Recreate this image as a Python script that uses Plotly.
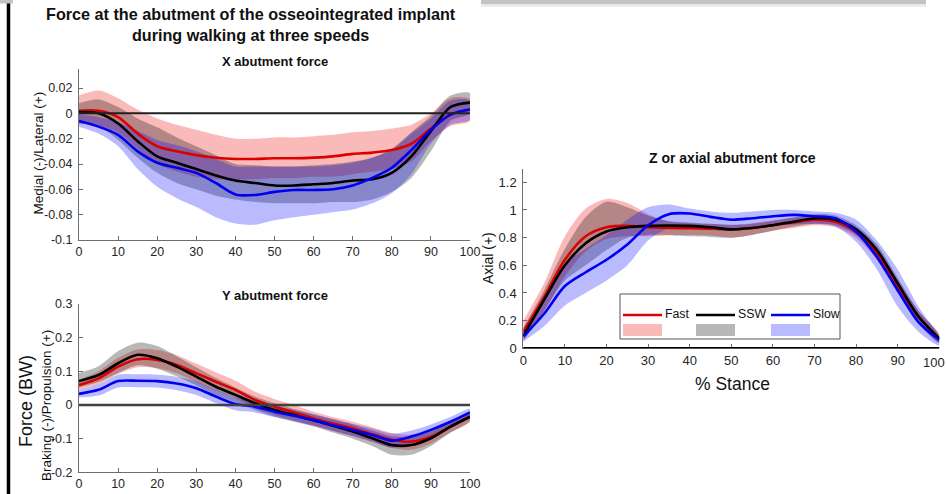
import plotly.graph_objects as go

W, H = 947, 494

# ---------------- data ----------------
STANCE = [0, 5, 10, 15, 20, 25, 30, 35, 40, 45, 50, 55, 60, 65, 70, 75, 80, 85, 90, 95, 100]
X_TICKS = [0, 10, 20, 30, 40, 50, 60, 70, 80, 90, 100]

# X (medial/lateral) abutment force
ml_fast = [0.002, 0.002, -0.003, -0.016, -0.026, -0.030, -0.033, -0.035, -0.036, -0.036, -0.0355,
           -0.0355, -0.035, -0.034, -0.032, -0.031, -0.029, -0.024, -0.012, -0.001, 0.003]
ml_fast_hi = [0.014, 0.018, 0.012, 0.003, -0.004, -0.009, -0.013, -0.017, -0.020, -0.020, -0.019,
              -0.019, -0.018, -0.017, -0.015, -0.014, -0.012, -0.009, 0.000, 0.012, 0.011]
ml_fast_lo = [-0.008, -0.010, -0.015, -0.028, -0.040, -0.046, -0.050, -0.052, -0.052, -0.052, -0.051,
              -0.051, -0.050, -0.050, -0.048, -0.046, -0.044, -0.038, -0.022, -0.010, -0.006]

ml_ssw = [0.001, 0.0, -0.008, -0.022, -0.034, -0.039, -0.044, -0.049, -0.053, -0.055, -0.057,
          -0.057, -0.056, -0.055, -0.053, -0.052, -0.047, -0.034, -0.014, 0.005, 0.0085]
ml_ssw_hi = [0.008, 0.011, 0.005, -0.004, -0.011, -0.019, -0.026, -0.033, -0.040, -0.041, -0.042,
             -0.042, -0.041, -0.040, -0.038, -0.035, -0.028, -0.015, -0.002, 0.014, 0.016]
ml_ssw_lo = [-0.008, -0.010, -0.021, -0.035, -0.047, -0.055, -0.060, -0.065, -0.068, -0.070, -0.071,
             -0.071, -0.071, -0.070, -0.070, -0.068, -0.062, -0.051, -0.030, -0.006, 0.0]

ml_slow = [-0.006, -0.0105, -0.017, -0.030, -0.039, -0.043, -0.047, -0.055, -0.064, -0.0645, -0.062,
           -0.0605, -0.0605, -0.060, -0.057, -0.051, -0.043, -0.029, -0.013, -0.001, 0.003]
ml_slow_hi = [-0.001, -0.003, -0.007, -0.014, -0.021, -0.025, -0.030, -0.036, -0.042, -0.042, -0.042,
              -0.042, -0.042, -0.041, -0.039, -0.035, -0.029, -0.016, -0.004, 0.010, 0.010]
ml_slow_lo = [-0.0105, -0.016, -0.026, -0.044, -0.058, -0.067, -0.074, -0.082, -0.087, -0.088, -0.0845,
              -0.082, -0.080, -0.078, -0.076, -0.071, -0.063, -0.048, -0.024, -0.009, -0.005]

# Y (braking/propulsion) abutment force
ap_fast = [0.059, 0.079, 0.114, 0.136, 0.134, 0.119, 0.094, 0.069, 0.045, 0.015, -0.005,
           -0.022, -0.040, -0.055, -0.069, -0.087, -0.104, -0.109, -0.094, -0.065, -0.035]
ap_fast_hi = [0.075, 0.100, 0.140, 0.165, 0.163, 0.148, 0.123, 0.097, 0.072, 0.040, 0.018,
              0.0, -0.020, -0.036, -0.050, -0.066, -0.083, -0.088, -0.076, -0.050, -0.025]
ap_fast_lo = [0.045, 0.062, 0.092, 0.112, 0.110, 0.094, 0.068, 0.043, 0.020, -0.010, -0.030,
              -0.046, -0.062, -0.077, -0.092, -0.110, -0.128, -0.133, -0.115, -0.082, -0.048]

ap_ssw = [0.071, 0.089, 0.124, 0.149, 0.139, 0.114, 0.084, 0.054, 0.030, 0.005, -0.015,
          -0.030, -0.045, -0.062, -0.079, -0.099, -0.119, -0.119, -0.099, -0.064, -0.035]
ap_ssw_hi = [0.095, 0.115, 0.160, 0.185, 0.175, 0.145, 0.112, 0.080, 0.052, 0.025, 0.005,
             -0.012, -0.027, -0.042, -0.058, -0.076, -0.093, -0.094, -0.078, -0.048, -0.025]
ap_ssw_lo = [0.052, 0.068, 0.095, 0.118, 0.108, 0.085, 0.058, 0.030, 0.008, -0.015, -0.035,
             -0.050, -0.064, -0.082, -0.100, -0.122, -0.148, -0.148, -0.122, -0.082, -0.048]

ap_slow = [0.033, 0.045, 0.071, 0.072, 0.071, 0.064, 0.050, 0.025, 0.003, -0.005, -0.020,
           -0.032, -0.045, -0.060, -0.074, -0.089, -0.106, -0.094, -0.074, -0.050, -0.022]
ap_slow_hi = [0.045, 0.062, 0.090, 0.091, 0.090, 0.084, 0.070, 0.045, 0.022, 0.012, -0.004,
              -0.016, -0.029, -0.043, -0.056, -0.070, -0.085, -0.076, -0.058, -0.036, -0.012]
ap_slow_lo = [0.022, 0.028, 0.052, 0.053, 0.052, 0.044, 0.030, 0.006, -0.016, -0.022, -0.036,
              -0.048, -0.061, -0.077, -0.092, -0.108, -0.127, -0.113, -0.090, -0.064, -0.032]

# Z (axial) abutment force
ax_fast = [0.12, 0.37, 0.64, 0.81, 0.875, 0.885, 0.875, 0.87, 0.868, 0.865, 0.86,
           0.87, 0.89, 0.91, 0.93, 0.915, 0.84, 0.69, 0.45, 0.23, 0.07]
ax_fast_hi = [0.20, 0.47, 0.81, 1.01, 1.08, 1.05, 0.97, 0.915, 0.905, 0.90, 0.895,
              0.905, 0.925, 0.945, 0.96, 0.945, 0.875, 0.73, 0.49, 0.27, 0.10]
ax_fast_lo = [0.06, 0.27, 0.52, 0.70, 0.79, 0.81, 0.81, 0.815, 0.82, 0.815, 0.80,
              0.82, 0.85, 0.87, 0.89, 0.875, 0.80, 0.64, 0.40, 0.18, 0.04]

ax_ssw = [0.09, 0.35, 0.60, 0.76, 0.845, 0.875, 0.885, 0.887, 0.885, 0.875, 0.86,
          0.87, 0.89, 0.915, 0.94, 0.93, 0.86, 0.71, 0.47, 0.23, 0.07]
ax_ssw_hi = [0.15, 0.42, 0.72, 0.95, 1.06, 1.02, 0.96, 0.92, 0.91, 0.90, 0.89,
             0.90, 0.92, 0.945, 0.97, 0.96, 0.89, 0.75, 0.51, 0.27, 0.10]
ax_ssw_lo = [0.05, 0.27, 0.49, 0.60, 0.71, 0.80, 0.82, 0.82, 0.81, 0.805, 0.80,
             0.82, 0.85, 0.88, 0.90, 0.89, 0.82, 0.66, 0.42, 0.18, 0.04]

ax_slow = [0.085, 0.25, 0.45, 0.55, 0.64, 0.75, 0.89, 0.97, 0.975, 0.95, 0.93,
           0.94, 0.955, 0.965, 0.955, 0.94, 0.845, 0.66, 0.42, 0.19, 0.06]
ax_slow_hi = [0.13, 0.36, 0.61, 0.72, 0.82, 0.93, 1.02, 1.04, 1.01, 0.99, 0.98,
              0.99, 1.0, 1.0, 0.99, 0.98, 0.93, 0.78, 0.57, 0.30, 0.08]
ax_slow_lo = [0.05, 0.16, 0.31, 0.40, 0.49, 0.60, 0.78, 0.87, 0.89, 0.88, 0.86,
              0.875, 0.89, 0.895, 0.90, 0.88, 0.77, 0.57, 0.30, 0.12, 0.02]

ML_TICKS = [0.02, 0, -0.02, -0.04, -0.06, -0.08, -0.1]
ML_TICKTEXT = ["0.02", "0", "-0.02", "-0.04", "-0.06", "-0.08", "-0.1"]
AP_TICKS = [0.3, 0.2, 0.1, 0, -0.1, -0.2]
AP_TICKTEXT = ["0.3", "0.2", "0.1", "0", "-0.1", "-0.2"]
AX_TICKS = [0, 0.2, 0.4, 0.6, 0.8, 1, 1.2]
AX_TICKTEXT = ["0", "0.2", "0.4", "0.6", "0.8", "1", "1.2"]

SPEEDS = ["Fast", "SSW", "Slow"]
LINE_COLORS = {"Fast": "#dc0000", "SSW": "#000000", "Slow": "#0000f0"}
BAND_COLORS = {"Fast": "rgba(240,0,0,0.27)", "SSW": "rgba(0,0,0,0.28)", "Slow": "rgba(0,0,255,0.27)"}

FONT = "Liberation Sans, Arial, Helvetica, sans-serif"


def px(x):
    return x / W


def py(y):
    return 1 - y / H


panels = [
    ("x", "y", {"Fast": (ml_fast, ml_fast_hi, ml_fast_lo),
                "SSW": (ml_ssw, ml_ssw_hi, ml_ssw_lo),
                "Slow": (ml_slow, ml_slow_hi, ml_slow_lo)}),
    ("x2", "y2", {"Fast": (ap_fast, ap_fast_hi, ap_fast_lo),
                  "SSW": (ap_ssw, ap_ssw_hi, ap_ssw_lo),
                  "Slow": (ap_slow, ap_slow_hi, ap_slow_lo)}),
    ("x3", "y3", {"Fast": (ax_fast, ax_fast_hi, ax_fast_lo),
                  "SSW": (ax_ssw, ax_ssw_hi, ax_ssw_lo),
                  "Slow": (ax_slow, ax_slow_hi, ax_slow_lo)}),
]

fig = go.Figure()
for xa, ya, series in panels:
    for s in SPEEDS:
        mean, hi, lo = series[s]
        fig.add_trace(go.Scatter(
            x=STANCE + STANCE[::-1], y=hi + lo[::-1], xaxis=xa, yaxis=ya,
            fill="toself", fillcolor=BAND_COLORS[s], line=dict(width=0, shape="spline", smoothing=0.8),
            mode="lines", hoverinfo="skip", showlegend=False))
    for s in SPEEDS:
        mean, hi, lo = series[s]
        fig.add_trace(go.Scatter(
            x=STANCE, y=mean, xaxis=xa, yaxis=ya, mode="lines", name=s,
            line=dict(color=LINE_COLORS[s], width=2.6, shape="spline", smoothing=0.8),
            showlegend=False))


def axis_style(size):
    return dict(showgrid=False, zeroline=False, showline=True, linecolor="#6e6e6e", linewidth=1,
                ticks="inside", ticklen=4, tickcolor="#6e6e6e", mirror=False, automargin=False,
                tickfont=dict(family=FONT, size=size, color="#262626"))


fig.update_layout(
    width=W, height=H, margin=dict(l=0, r=0, t=0, b=0, pad=0, autoexpand=False),
    paper_bgcolor="white", plot_bgcolor="white", showlegend=False,
    xaxis=dict(domain=[px(79), px(470)], range=[0, 100], anchor="y",
               tickvals=X_TICKS, **axis_style(12.5)),
    yaxis=dict(domain=[py(240), py(69)], range=[-0.1, 0.035], anchor="x",
               tickvals=ML_TICKS, ticktext=ML_TICKTEXT, ticklabelstandoff=3, **axis_style(12.5)),
    xaxis2=dict(domain=[px(79), px(470)], range=[0, 100], anchor="y2",
                tickvals=X_TICKS, **axis_style(12.5)),
    yaxis2=dict(domain=[py(472.3), py(304)], range=[-0.2, 0.3], anchor="x2",
                tickvals=AP_TICKS, ticktext=AP_TICKTEXT, ticklabelstandoff=3, **axis_style(12.5)),
    xaxis3=dict(domain=[px(523.3), px(939.3)], range=[0, 100], anchor="y3",
                tickvals=X_TICKS, **axis_style(13)),
    yaxis3=dict(domain=[py(348.3), py(168.5)], range=[0, 1.3], anchor="x3",
                tickvals=AX_TICKS, ticktext=AX_TICKTEXT, ticklabelstandoff=3, **axis_style(13)),
)

shapes = []
# zero reference lines
shapes.append(dict(type="line", xref="x domain", yref="y", x0=0, x1=1, y0=0, y1=0,
                   line=dict(color="#202020", width=2), layer="above"))
shapes.append(dict(type="line", xref="x2 domain", yref="y2", x0=0, x1=1, y0=0, y1=0,
                   line=dict(color="#404040", width=2.5), layer="above"))
shapes.append(dict(type="line", xref="x3 domain", yref="y3", x0=0, x1=1, y0=0, y1=0,
                   line=dict(color="#000000", width=2.5), layer="above"))
# screenshot frame artifacts
shapes.append(dict(type="line", xref="paper", yref="paper", x0=px(8.5), x1=px(8.5), y0=0, y1=py(3),
                   line=dict(color="#000000", width=3.5)))
shapes.append(dict(type="rect", xref="paper", yref="paper", x0=0, x1=px(13), y0=py(3.5), y1=1,
                   line=dict(width=0), fillcolor="#c4c4c4"))
shapes.append(dict(type="rect", xref="paper", yref="paper", x0=px(481), x1=px(926), y0=py(4.5), y1=1,
                   line=dict(width=0), fillcolor="#c3c3c3"))
shapes.append(dict(type="rect", xref="paper", yref="paper", x0=px(481), x1=px(926), y0=py(7), y1=py(4.5),
                   line=dict(width=0), fillcolor="#ececec"))
# legend box
shapes.append(dict(type="rect", xref="paper", yref="paper", x0=px(620), x1=px(840), y0=py(339), y1=py(294),
                   line=dict(color="#555555", width=1), fillcolor="white", layer="above"))
leg_x = {"Fast": 623, "SSW": 696, "Slow": 771}
for s in SPEEDS:
    x0 = leg_x[s]
    shapes.append(dict(type="line", xref="paper", yref="paper", x0=px(x0), x1=px(x0 + 39),
                       y0=py(315), y1=py(315), line=dict(color=LINE_COLORS[s], width=2.6), layer="above"))
    shapes.append(dict(type="rect", xref="paper", yref="paper", x0=px(x0), x1=px(x0 + 39),
                       y0=py(336), y1=py(324), line=dict(width=0), fillcolor=BAND_COLORS[s], layer="above"))
fig.update_layout(shapes=shapes)

ann = []


def text(x, y, t, size, bold=False, angle=0, xanchor="center", color="#111111"):
    ann.append(dict(xref="paper", yref="paper", x=px(x), y=py(y), text=("<b>%s</b>" % t) if bold else t,
                    showarrow=False, xanchor=xanchor, yanchor="middle", textangle=angle,
                    font=dict(family=FONT, size=size, color=color)))


text(251, 25, "Force at the abutment of the osseointegrated implant<br>during walking at three speeds", 16.2, bold=True)
text(275, 61, "X abutment force", 13, bold=True)
text(275, 295, "Y abutment force", 13, bold=True)
text(732, 158, "Z or axial abutment force", 14, bold=True)
text(732, 384, "% Stance", 17.5)
text(488, 258, "Axial (+)", 14, angle=-90)
text(37.5, 153, "Medial (-)/Lateral (+)", 13.5, angle=-90)
text(46, 406, "Braking (-)/Propulsion (+)", 13.5, angle=-90)
text(26, 401, "Force (BW)", 18, angle=-90)
# last x tick label of the axial panel (sits at the right page edge)
text(947, 362, str(X_TICKS[-1]), 13, xanchor="right", color="#262626")
for s in SPEEDS:
    ann.append(dict(xref="paper", yref="paper", x=px(leg_x[s] + 40), y=py(314), text=s, showarrow=False,
                    xanchor="left", yanchor="middle", font=dict(family=FONT, size=12.3, color="#111111")))
fig.update_layout(annotations=ann)

fig.write_html("out.html")
